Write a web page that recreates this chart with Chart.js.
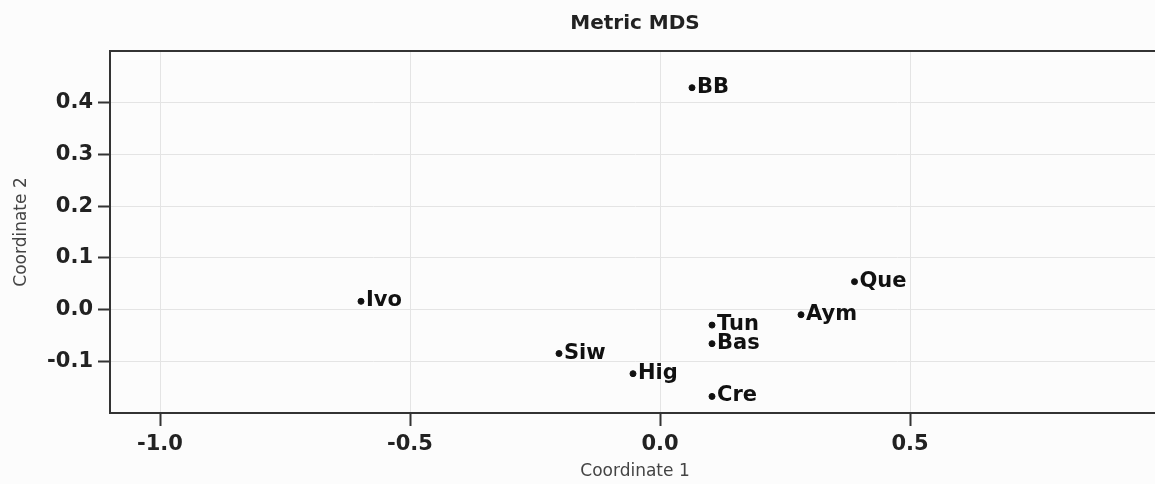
<!DOCTYPE html>
<html lang="en">
<head>
  <meta charset="UTF-8">
  <title>Metric MDS</title>
  <script src="https://cdn.jsdelivr.net/npm/chart.js"></script>
  <style>
    html, body {
      margin: 0;
      padding: 0;
      background: #fcfcfc;
      overflow: hidden;
    }
    /* the plot runs a little past the right edge of the window, as in the original */
    #wrap {
      position: relative;
      width: 1164px;
      height: 484px;
    }
  </style>
</head>
<body>
  <div id="wrap">
    <canvas id="mds"></canvas>
  </div>

  <script>
    // languages and their coordinates
    const languages = ['BB', 'Ivo', 'Que', 'Aym', 'Tun', 'Bas', 'Siw', 'Hig', 'Cre'];
    const coord1 = [0.064, -0.598, 0.389, 0.282, 0.104, 0.104, -0.202, -0.054, 0.104];
    const coord2 = [0.429, 0.016, 0.054, -0.010, -0.030, -0.066, -0.085, -0.124, -0.168];

    const xTicks = [-1.0, -0.5, 0.0, 0.5];
    const yTicks = [-0.1, 0.0, 0.1, 0.2, 0.3, 0.4];

    const points = languages.map((name, i) => ({ x: coord1[i], y: coord2[i], name: name }));

    const FONT = "'DejaVu Sans', Verdana, sans-serif";
    const AXIS = '#333333';
    const GRID = '#e4e4e4';

    // name next to each dot
    const pointLabels = {
      id: 'pointLabels',
      afterDatasetsDraw(chart) {
        const ctx = chart.ctx;
        const meta = chart.getDatasetMeta(0);
        ctx.save();
        ctx.font = 'bold 21px ' + FONT;
        ctx.fillStyle = '#111111';
        ctx.textAlign = 'left';
        ctx.textBaseline = 'alphabetic';
        meta.data.forEach((el, i) => {
          ctx.fillText(points[i].name, el.x + 5, el.y + 5);
        });
        ctx.restore();
      }
    };

    // top line of the frame + title centred over the plot
    const frame = {
      id: 'frame',
      afterLayout(chart) {
        chart.titleBlock.left = chart.chartArea.left;
        chart.titleBlock.right = chart.chartArea.right;
      },
      afterDraw(chart) {
        const a = chart.chartArea;
        const ctx = chart.ctx;
        ctx.save();
        ctx.strokeStyle = AXIS;
        ctx.lineWidth = 2;
        ctx.beginPath();
        ctx.moveTo(a.left - 1, a.top);
        ctx.lineTo(chart.width, a.top);
        ctx.stroke();
        ctx.restore();
      }
    };

    const ctx = document.getElementById('mds').getContext('2d');
    const chart = new Chart(ctx, {
      type: 'scatter',
      data: {
        datasets: [{
          label: 'MDS',
          data: points,
          backgroundColor: '#111111',
          borderColor: '#111111',
          pointRadius: 3,
          pointHoverRadius: 3
        }]
      },
      options: {
        responsive: true,
        maintainAspectRatio: false,
        animation: false,
        layout: { padding: { left: 0, right: 0, top: 0, bottom: 0 } },
        plugins: {
          legend: { display: false },
          tooltip: { enabled: false },
          title: {
            display: true,
            text: 'Metric MDS',
            color: '#222222',
            font: { family: FONT, size: 20, weight: 'bold' },
            padding: { top: 12, bottom: 15 }
          }
        },
        scales: {
          x: {
            type: 'linear',
            min: -1.1,
            max: 1.0,
            afterBuildTicks: s => { s.ticks = xTicks.map(v => ({ value: v })); },
            afterFit: s => { s.height = 71; },
            ticks: {
              color: '#222222',
              font: { family: FONT, size: 21, weight: 'bold' },
              padding: 6,
              callback: v => v.toFixed(1)
            },
            grid: {
              color: GRID,
              lineWidth: 1,
              drawTicks: true,
              tickColor: AXIS,
              tickWidth: 2,
              tickLength: 13
            },
            border: { display: true, color: AXIS, width: 2 },
            title: {
              display: true,
              text: 'Coordinate 1',
              color: '#444444',
              font: { family: FONT, size: 17 },
              padding: { top: 2, bottom: 2 }
            }
          },
          y: {
            type: 'linear',
            min: -0.2,
            max: 0.5,
            afterBuildTicks: s => { s.ticks = yTicks.map(v => ({ value: v })); },
            afterFit: s => { s.width = 110; },
            ticks: {
              color: '#222222',
              font: { family: FONT, size: 21, weight: 'bold' },
              padding: 5,
              callback: v => v.toFixed(1)
            },
            grid: {
              color: GRID,
              lineWidth: 1,
              drawTicks: true,
              tickColor: AXIS,
              tickWidth: 2,
              tickLength: 12
            },
            border: { display: true, color: AXIS, width: 2 },
            title: {
              display: true,
              text: 'Coordinate 2',
              color: '#444444',
              font: { family: FONT, size: 17 },
              padding: { top: 11, bottom: 0 }
            }
          }
        }
      },
      plugins: [pointLabels, frame]
    });
  </script>
</body>
</html>
